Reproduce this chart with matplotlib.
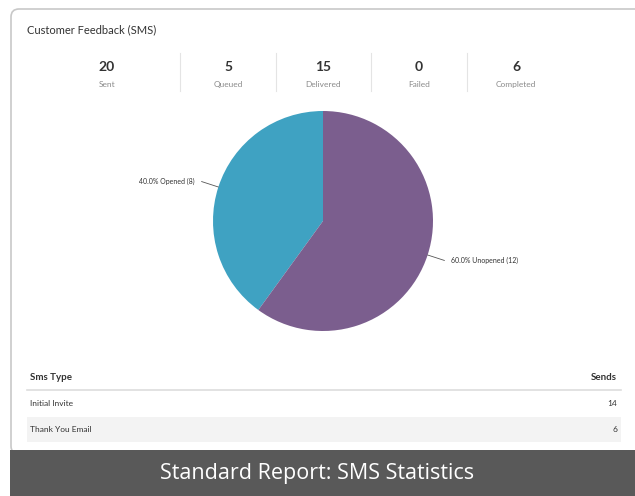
import numpy as np
import matplotlib
matplotlib.use("Agg")
import matplotlib.pyplot as plt
from matplotlib.patches import FancyBboxPatch, Rectangle

plt.rcParams['font.family'] = ['Lato', 'DejaVu Sans']

# data
title = "Customer Feedback (SMS)"
stat_names = ["Sent", "Queued", "Delivered", "Failed", "Completed"]
stat_values = [20, 5, 15, 0, 6]
pie_labels = ["Opened", "Unopened"]
pie_values = [8, 12]
pie_colors = ["#3fa2c2", "#7b5e8e"]
table_cols = ["Sms Type", "Sends"]
sms_types = ["Initial Invite", "Thank You Email"]
sms_sends = [14, 6]
banner = "Standard Report: SMS Statistics"

W, H = 635, 496
fig = plt.figure(figsize=(W / 100, H / 100), dpi=100)
fig.patch.set_facecolor("white")

# background layer in pixel coords
bg = fig.add_axes([0, 0, 1, 1])
bg.set_xlim(0, W)
bg.set_ylim(H, 0)
bg.axis("off")

# card
bg.add_patch(FancyBboxPatch((11, 9), 640, 445, boxstyle="round,pad=0,rounding_size=8",
                            facecolor="white", edgecolor="#c8c8c8", lw=1.2))
bg.text(27, 30, title, fontsize=8, color="#333333", va="center", ha="left")

# stats row
xs = [107, 228, 323, 419, 516]
for i, (name, val) in enumerate(zip(stat_names, stat_values)):
    bg.text(xs[i], 71, str(val), fontsize=10, fontweight="bold", color="#333333",
            ha="center", va="baseline")
    bg.text(xs[i], 87, name, fontsize=6, color="#8a8a8a", ha="center", va="baseline")
for x in [180, 276, 371, 467]:
    bg.plot([x, x], [53, 91], color="#e4e4e4", lw=0.8)

# table
bg.text(30, 377, table_cols[0], fontsize=7, fontweight="bold", color="#333333", va="center")
bg.text(617, 377, table_cols[1], fontsize=7, fontweight="bold", color="#333333",
        va="center", ha="right")
bg.plot([27, 621], [389.5, 389.5], color="#dddddd", lw=1.2)
row_y = [404, 429]
for i, (t, n) in enumerate(zip(sms_types, sms_sends)):
    if i % 2 == 1:
        bg.add_patch(Rectangle((27, row_y[i] - 12.5), 594, 25, facecolor="#f3f3f3",
                               edgecolor="none"))
    bg.text(30, row_y[i], t, fontsize=6, color="#333333", va="center")
    bg.text(617, row_y[i], str(n), fontsize=6, color="#333333", va="center", ha="right")

# banner
bg.add_patch(Rectangle((10, 450), W, 50, facecolor="#595959", edgecolor="none"))
bg.text(317, 473, banner, fontsize=15.5, color="white", ha="center", va="center",
        family=["Open Sans", "DejaVu Sans"])

# pie
cx, cy, r = 323, 221, 110
half = 1.25 * r
pax = fig.add_axes([(cx - half) / W, (H - cy - half) / H, 2 * half / W, 2 * half / H])
wedges, _ = pax.pie(pie_values, colors=pie_colors, startangle=90, counterclock=True,
                    wedgeprops=dict(linewidth=0))
pax.set_xlim(-1.25, 1.25)
pax.set_ylim(-1.25, 1.25)
pax.set_aspect("equal")
total = sum(pie_values)
for w, lab, v in zip(wedges, pie_labels, pie_values):
    ang = np.deg2rad((w.theta1 + w.theta2) / 2)
    c, s = np.cos(ang), np.sin(ang)
    pax.plot([c * 1.0, c * 1.16], [s * 1.0, s * 1.16], color="#555555", lw=0.6)
    ha = "left" if c > 0 else "right"
    txt = f"{v / total * 100:.1f}% {lab} ({v})"
    pax.text(c * 1.16 + (0.06 if c > 0 else -0.06), s * 1.16, txt, fontsize=5,
             color="#333333", ha=ha, va="center")

fig.savefig("out.png", dpi=100)
